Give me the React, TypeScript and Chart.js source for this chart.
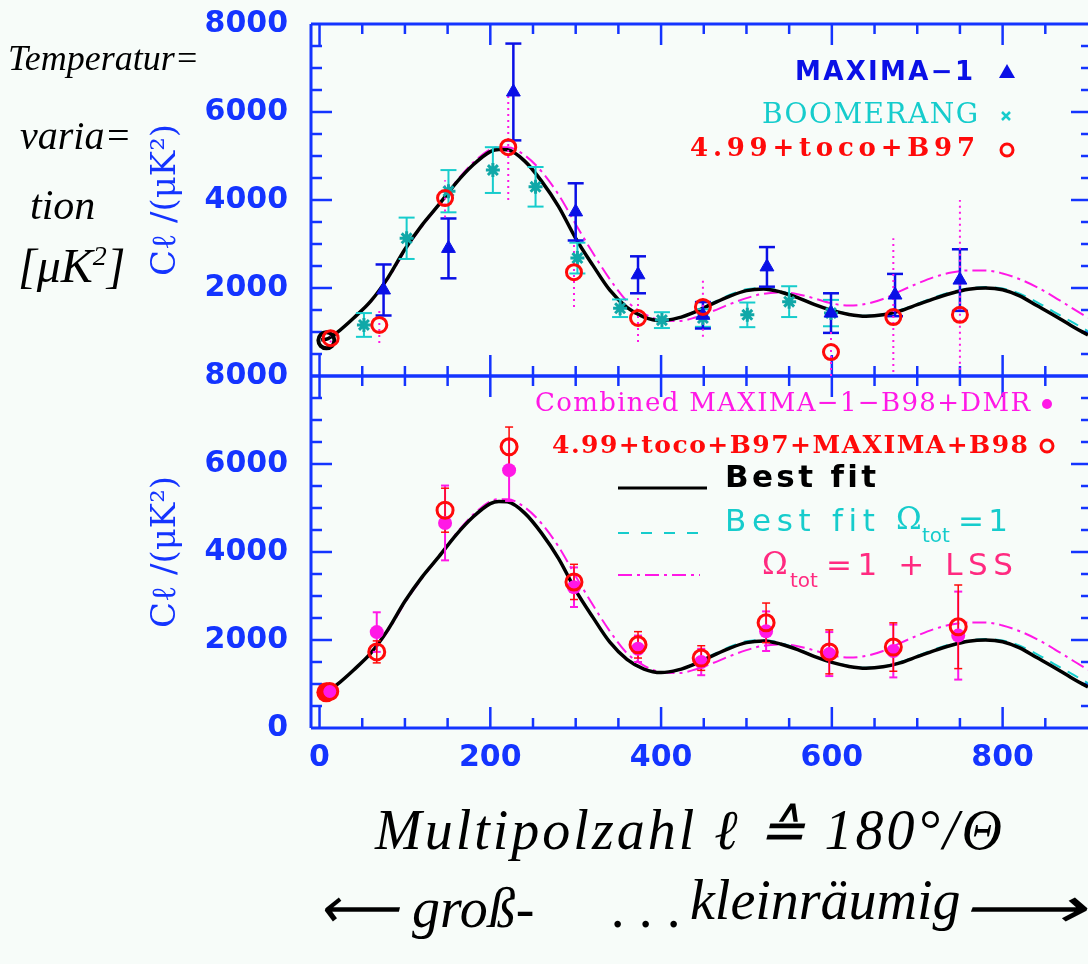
import React, { useEffect, useRef } from 'react';
import { Chart, registerables } from 'chart.js';

Chart.register(...registerables);

// ---------- axis ticks ----------
const xTickLabels = [0, 200, 400, 600, 800];
const yTickLabelsTop = [2000, 4000, 6000, 8000];
const yTickLabelsBottom = [0, 2000, 4000, 6000, 8000];

// ---------- theory curves (multipole l, C_l in uK^2) ----------
const curveEll = [2, 10, 20, 40, 60, 80, 100, 120, 140, 160, 180, 200, 210, 220, 240, 260, 280, 300, 320, 340, 360, 380, 400, 420, 440, 460, 480, 500, 520, 540, 560, 580, 600, 620, 640, 660, 680, 700, 720, 740, 760, 780, 800, 820, 840, 860, 880, 900];
const bestFit = [820, 850, 980, 1320, 1700, 2230, 2880, 3430, 3900, 4390, 4800, 5100, 5150, 5140, 4890, 4430, 3850, 3130, 2520, 1950, 1560, 1340, 1260, 1320, 1460, 1640, 1810, 1940, 1980, 1910, 1780, 1620, 1490, 1400, 1360, 1390, 1480, 1620, 1760, 1880, 1970, 2000, 1960, 1820, 1600, 1380, 1150, 930];
const bestFitFlat = [820, 850, 980, 1320, 1700, 2230, 2880, 3430, 3900, 4390, 4800, 5100, 5150, 5140, 4890, 4430, 3850, 3130, 2520, 1950, 1560, 1340, 1260, 1320, 1470, 1660, 1840, 1970, 2000, 1930, 1800, 1630, 1500, 1410, 1370, 1400, 1500, 1640, 1790, 1910, 1990, 2020, 1990, 1870, 1680, 1460, 1240, 1020];
const bestFitLSS = [820, 850, 980, 1320, 1690, 2200, 2850, 3400, 3900, 4420, 4850, 5150, 5200, 5200, 5020, 4650, 4120, 3450, 2800, 2200, 1700, 1420, 1270, 1250, 1330, 1470, 1630, 1770, 1870, 1900, 1860, 1760, 1650, 1600, 1640, 1750, 1930, 2100, 2250, 2350, 2400, 2400, 2330, 2200, 2020, 1800, 1560, 1320];

// ---------- top panel data ----------
const maximaEll = [75, 151, 227, 300, 373, 449, 524, 599, 674, 750];
const maximaVal = [1955, 2900, 6455, 3730, 2300, 1380, 2480, 1430, 1840, 2180];
const maximaErr = [580, 680, 1100, 650, 420, 300, 450, 450, 480, 700];

const boomEll = [52, 102, 151, 203, 253, 302, 352, 401, 449, 501, 550, 599];
const boomVal = [1160, 3130, 4200, 4680, 4300, 2680, 1540, 1270, 1318, 1390, 1690, 1430];
const boomErr = [270, 470, 480, 520, 450, 350, 200, 180, 200, 280, 350, 300];

const b97Ell = [13, 70, 147, 221, 298, 373, 449, 599, 672, 750];
const b97Val = [860, 1160, 4045, 5200, 2360, 1318, 1570, 545, 1340, 1390];
const b97Lo = [760, 750, 3600, 4000, 1570, 770, 890, 0, 90, 140];
const b97Hi = [960, 1540, 4450, 6450, 3020, 1850, 2250, 1050, 3130, 4000];

const dmrEll = [8];
const dmrVal = [810];

// ---------- bottom panel data ----------
const combEll = [12, 67, 147, 222, 298, 373, 447, 523, 597, 672, 748];
const combVal = [830, 2180, 4660, 5860, 3200, 1800, 1500, 2200, 1680, 1750, 2100];
const combErr = [150, 450, 850, 700, 450, 300, 300, 450, 500, 600, 1000];

const allEll = [12, 67, 147, 222, 298, 373, 447, 523, 597, 672, 748];
const allVal = [830, 1730, 4950, 6390, 3320, 1890, 1590, 2390, 1730, 1840, 2300];
const allErr = [100, 250, 500, 450, 400, 300, 280, 450, 500, 550, 950];

// ---------- legend texts ----------
const topLegend = ['MAXIMA\u22121', 'BOOMERANG', '4.99+toco+B97'];
const bottomLegend = ['Combined MAXIMA\u22121\u2212B98+DMR', '4.99+toco+B97+MAXIMA+B98', 'Best fit'];

// ---------- colours ----------
const AXIS = '#1434ff';
const BLUE = '#0a10e6';
const CYAN = '#16cccc';
const RED = '#ff0a0a';
const MAGENTA = '#ff18e6';
const PINK = '#ff2a80';
const BG = '#f7fcf9';

const pts = (xs: number[], ys: number[]) => xs.map((x, i) => ({ x, y: ys[i] }));
const sub = (v: number[], e: number[]) => v.map((a, i) => a - e[i]);
const add = (v: number[], e: number[]) => v.map((a, i) => a + e[i]);
const segs = (xs: number[], lo: number[], hi: number[]) =>
  xs.flatMap((x, i) => [{ x, y: lo[i] }, { x, y: hi[i] }, { x, y: null as any }]);
const caps = (xs: number[], lo: number[], hi: number[]) =>
  xs.flatMap((x, i) => [{ x, y: lo[i] }, { x, y: hi[i] }]);

const errLine = (data: any[], yAxisID: string, color: string, width: number, dash: number[] = []) => ({
  data, yAxisID, xAxisID: 'x', showLine: true, spanGaps: false, borderColor: color, borderWidth: width,
  borderDash: dash, pointRadius: 0, fill: false,
});
const errCap = (data: any[], yAxisID: string, color: string, width: number, r: number) => ({
  data, yAxisID, xAxisID: 'x', showLine: false, pointStyle: 'line', pointRadius: r,
  borderColor: color, pointBorderColor: color, pointBorderWidth: width,
});
const curve = (data: number[], yAxisID: string, color: string, width: number, dash: number[] = []) => ({
  data: pts(curveEll, data), yAxisID, xAxisID: 'x', showLine: true, borderColor: color, borderWidth: width,
  borderDash: dash, pointRadius: 0, cubicInterpolationMode: 'monotone', fill: false,
});

function spacedText(ctx: CanvasRenderingContext2D, text: string, x: number, y: number, width: number, align: 'left' | 'right') {
  (ctx as any).letterSpacing = '0px';
  ctx.textAlign = 'left';
  const w = ctx.measureText(text).width;
  const n = Math.max(text.length - 1, 1);
  const ls = (width - w) / n;
  (ctx as any).letterSpacing = ls + 'px';
  const sx = align === 'right' ? x - width : x;
  ctx.fillText(text, sx, y);
  (ctx as any).letterSpacing = '0px';
}

const framePlugin = {
  id: 'frameTicks',
  beforeDatasetsDraw(chart: any) {
    const ctx = chart.ctx as CanvasRenderingContext2D;
    const xs = chart.scales.x;
    const panels = [chart.scales.y1, chart.scales.y2];
    const seg = (a: number, b: number, c: number, d: number) => {
      ctx.beginPath(); ctx.moveTo(a, b); ctx.lineTo(c, d); ctx.stroke();
    };
    ctx.save();
    ctx.strokeStyle = AXIS;
    for (const s of panels) {
      ctx.lineWidth = 3;
      seg(xs.left, s.top, xs.right + 10, s.top);
      seg(xs.left, s.bottom, xs.right + 10, s.bottom);
      seg(xs.left, s.top, xs.left, s.bottom);
      ctx.lineWidth = 2.5;
      for (let v = 500; v < 8000; v += 500) {
        const py = s.getPixelForValue(v);
        const len = v % 2000 === 0 ? 21 : 11;
        seg(xs.left, py, xs.left + len, py);
        seg(xs.right + 4, py, xs.right + 4 - len, py);
      }
      for (let l = 0; l < 900; l += 50) {
        const px = xs.getPixelForValue(l);
        const len = l % 200 === 0 ? 21 : 10;
        seg(px, s.top, px, s.top + len);
        seg(px, s.bottom, px, s.bottom - len);
      }
    }
    ctx.restore();
  },
};

const legendPlugin = {
  id: 'customLegend',
  afterDatasetsDraw(chart: any) {
    const ctx = chart.ctx as CanvasRenderingContext2D;
    ctx.save();
    ctx.textBaseline = 'middle';
    // top panel legend
    ctx.fillStyle = BLUE; ctx.font = 'bold 26px "DejaVu Sans"';
    spacedText(ctx, topLegend[0], 973, 73, 178, 'right');
    ctx.fillStyle = CYAN; ctx.font = '28px "DejaVu Serif"';
    spacedText(ctx, topLegend[1], 978, 116, 216, 'right');
    ctx.fillStyle = RED; ctx.font = 'bold 26px "DejaVu Serif"';
    spacedText(ctx, topLegend[2], 975, 149, 285, 'right');
    // markers
    ctx.fillStyle = BLUE;
    ctx.beginPath(); ctx.moveTo(1007, 64); ctx.lineTo(1015, 78); ctx.lineTo(999, 78); ctx.closePath(); ctx.fill();
    ctx.strokeStyle = CYAN; ctx.lineWidth = 2.5;
    ctx.beginPath(); ctx.moveTo(1002, 112); ctx.lineTo(1010, 120); ctx.moveTo(1010, 112); ctx.lineTo(1002, 120); ctx.stroke();
    ctx.strokeStyle = RED; ctx.lineWidth = 3;
    ctx.beginPath(); ctx.arc(1007, 150, 6, 0, Math.PI * 2); ctx.stroke();

    // bottom panel legend
    ctx.fillStyle = MAGENTA; ctx.font = '26px "DejaVu Serif"';
    spacedText(ctx, bottomLegend[0], 1030, 404, 495, 'right');
    ctx.beginPath(); ctx.arc(1047, 404, 5, 0, Math.PI * 2); ctx.fill();
    ctx.fillStyle = RED; ctx.font = 'bold 25px "DejaVu Serif"';
    spacedText(ctx, bottomLegend[1], 1028, 446, 476, 'right');
    ctx.strokeStyle = RED; ctx.lineWidth = 3;
    ctx.beginPath(); ctx.arc(1047, 446, 6, 0, Math.PI * 2); ctx.stroke();

    // line legends
    ctx.strokeStyle = '#000'; ctx.lineWidth = 3; ctx.setLineDash([]);
    ctx.beginPath(); ctx.moveTo(618, 488); ctx.lineTo(707, 488); ctx.stroke();
    ctx.fillStyle = '#000'; ctx.font = 'bold 31px "DejaVu Sans"';
    spacedText(ctx, bottomLegend[2], 725, 479, 150, 'left');

    ctx.strokeStyle = CYAN; ctx.lineWidth = 2; ctx.setLineDash([11, 12]);
    ctx.beginPath(); ctx.moveTo(618, 533); ctx.lineTo(707, 533); ctx.stroke();
    ctx.fillStyle = CYAN; ctx.font = '31px "DejaVu Sans"';
    spacedText(ctx, 'Best fit', 725, 523, 150, 'left');
    ctx.font = '31px "DejaVu Serif"';
    ctx.fillText('\u03A9', 896, 521);
    ctx.font = '20px "DejaVu Sans"';
    ctx.fillText('tot', 922, 537);
    ctx.font = '31px "DejaVu Sans"';
    spacedText(ctx, '=1', 958, 523, 50, 'left');

    ctx.strokeStyle = MAGENTA; ctx.lineWidth = 2; ctx.setLineDash([14, 5, 3, 5]);
    ctx.beginPath(); ctx.moveTo(618, 575); ctx.lineTo(700, 575); ctx.stroke();
    ctx.setLineDash([]);
    ctx.fillStyle = PINK; ctx.font = '31px "DejaVu Serif"';
    ctx.fillText('\u03A9', 762, 566);
    ctx.font = '20px "DejaVu Sans"';
    ctx.fillText('tot', 790, 582);
    ctx.font = '31px "DejaVu Sans"';
    spacedText(ctx, '=1 + LSS', 826, 567, 187, 'left');
    ctx.restore();
  },
};

const yScale = (ticks: number[], hideZeroLabel: boolean) => ({
  type: 'linear',
  position: 'left',
  stack: 'panels',
  stackWeight: 1,
  min: 0,
  max: 8000,
  afterBuildTicks: (s: any) => { s.ticks = ticks.map((v) => ({ value: v })); },
  afterFit: (s: any) => {
    s.width = 311;
    s.paddingTop = 0; s.paddingBottom = 0; s.paddingLeft = 0; s.paddingRight = 0;
  },
  grid: { display: false, drawTicks: false },
  border: { display: false },
  ticks: {
    color: AXIS,
    padding: 23,
    autoSkip: false,
    font: { family: 'DejaVu Sans', size: 30, weight: 'bold' },
    callback: (v: any) => (hideZeroLabel && v === 0 ? '' : String(v)),
  },
  title: {
    display: true,
    text: 'C\u2113 /(\u03BCK\u00B2)',
    color: AXIS,
    font: { family: 'DejaVu Serif', size: 34 },
    padding: { top: 146, bottom: 0 },
  },
});

function CmbChart() {
  const ref = useRef<HTMLCanvasElement | null>(null);
  useEffect(() => {
    if (!ref.current) return;
    const datasets: any[] = [
      // top panel markers
      { label: topLegend[2], data: pts(b97Ell, b97Val), yAxisID: 'y1', xAxisID: 'x', pointStyle: 'circle', pointRadius: 7.5, pointBorderWidth: 3, pointBorderColor: RED, pointBackgroundColor: 'rgba(0,0,0,0)' },
      { label: topLegend[0], data: pts(maximaEll, maximaVal), yAxisID: 'y1', xAxisID: 'x', pointStyle: 'triangle', pointRadius: 8, pointBorderWidth: 1, pointBorderColor: BLUE, pointBackgroundColor: BLUE },
      { label: topLegend[1], data: pts(boomEll, boomVal), yAxisID: 'y1', xAxisID: 'x', pointStyle: 'star', pointRadius: 7, pointBorderWidth: 3, pointBorderColor: '#10a8a8', pointBackgroundColor: CYAN },
      { label: 'DMR', data: pts(dmrEll, dmrVal), yAxisID: 'y1', xAxisID: 'x', pointStyle: 'circle', pointRadius: 8, pointBorderWidth: 4, pointBorderColor: '#000', pointBackgroundColor: 'rgba(0,0,0,0)' },
      // bottom panel markers
      { label: bottomLegend[1], data: pts(allEll, allVal), yAxisID: 'y2', xAxisID: 'x', pointStyle: 'circle', pointRadius: 8, pointBorderWidth: 3, pointBorderColor: RED, pointBackgroundColor: 'rgba(0,0,0,0)' },
      { label: bottomLegend[0], data: pts(combEll, combVal), yAxisID: 'y2', xAxisID: 'x', pointStyle: 'circle', pointRadius: 7, pointBorderWidth: 0, pointBorderColor: MAGENTA, pointBackgroundColor: MAGENTA },
      { label: 'DMR', data: pts(dmrEll, dmrVal), yAxisID: 'y2', xAxisID: 'x', pointStyle: 'circle', pointRadius: 10, pointBorderWidth: 0, pointBorderColor: RED, pointBackgroundColor: RED },
      // error bars top
      errLine(segs(b97Ell, b97Lo, b97Hi), 'y1', MAGENTA, 2, [2, 4]),
      errLine(segs(maximaEll, sub(maximaVal, maximaErr), add(maximaVal, maximaErr)), 'y1', BLUE, 2.5),
      errCap(caps(maximaEll, sub(maximaVal, maximaErr), add(maximaVal, maximaErr)), 'y1', BLUE, 2.5, 8),
      errLine(segs(boomEll, sub(boomVal, boomErr), add(boomVal, boomErr)), 'y1', CYAN, 2),
      errCap(caps(boomEll, sub(boomVal, boomErr), add(boomVal, boomErr)), 'y1', CYAN, 2, 8),
      // error bars bottom
      errLine(segs(allEll, sub(allVal, allErr), add(allVal, allErr)), 'y2', RED, 1.5),
      errCap(caps(allEll, sub(allVal, allErr), add(allVal, allErr)), 'y2', RED, 1.5, 4),
      errLine(segs(combEll, sub(combVal, combErr), add(combVal, combErr)), 'y2', MAGENTA, 2),
      errCap(caps(combEll, sub(combVal, combErr), add(combVal, combErr)), 'y2', MAGENTA, 2, 4),
      // curves
      curve(bestFit, 'y1', '#000', 3.5),
      curve(bestFitFlat, 'y1', CYAN, 2, [12, 8]),
      curve(bestFitLSS, 'y1', MAGENTA, 2, [14, 5, 3, 5]),
      curve(bestFit, 'y2', '#000', 3.5),
      curve(bestFitFlat, 'y2', CYAN, 2, [12, 8]),
      curve(bestFitLSS, 'y2', MAGENTA, 2, [14, 5, 3, 5]),
    ];
    const chart = new Chart(ref.current, {
      type: 'scatter',
      data: { datasets },
      options: {
        responsive: false,
        maintainAspectRatio: false,
        animation: false,
        events: [],
        layout: { padding: { top: 24, bottom: 176, left: 0, right: 7 } },
        plugins: { legend: { display: false }, tooltip: { enabled: false } },
        scales: {
          x: {
            type: 'linear',
            position: 'bottom',
            min: -10,
            max: 900,
            afterBuildTicks: (s: any) => { s.ticks = xTickLabels.map((v) => ({ value: v })); },
            afterFit: (s: any) => {
              s.height = 60;
              s.paddingTop = 0; s.paddingBottom = 0; s.paddingLeft = 0; s.paddingRight = 0;
            },
            grid: { display: false, drawTicks: false },
            border: { display: false },
            ticks: {
              color: AXIS,
              padding: 12,
              autoSkip: false,
              maxRotation: 0,
              font: { family: 'DejaVu Sans', size: 30, weight: 'bold' },
            },
          },
          // first stacked axis is laid out at the bottom
          y2: yScale(yTickLabelsBottom, false),
          y1: yScale(yTickLabelsTop, true),
        } as any,
      },
      plugins: [framePlugin, legendPlugin],
    });
    return () => chart.destroy();
  }, []);
  return <canvas ref={ref} width={1100} height={964} style={{ display: 'block', width: 1100, height: 964 }} />;
}

const hand: React.CSSProperties = {
  position: 'absolute',
  fontFamily: '"Liberation Serif", serif',
  fontStyle: 'italic',
  color: '#000',
  whiteSpace: 'nowrap',
  lineHeight: 1,
};

export default function App() {
  return (
    <div style={{ position: 'fixed', left: 0, top: 0, width: 1088, height: 964, overflow: 'hidden', background: BG }}>
      <CmbChart />
      <div style={{ ...hand, left: 8, top: 40, fontSize: 36 }}>Temperatur=</div>
      <div style={{ ...hand, left: 20, top: 116, fontSize: 40 }}>varia=</div>
      <div style={{ ...hand, left: 30, top: 184, fontSize: 42 }}>tion</div>
      <div style={{ ...hand, left: 18, top: 242, fontSize: 48 }}>[μK<sup style={{ fontSize: 28 }}>2</sup>]</div>
      <div style={{ ...hand, left: 375, top: 802, fontSize: 56, letterSpacing: 3 }}>Multipolzahl ℓ ≙ 180°/Θ</div>
      <div style={{ ...hand, left: 318, top: 880, fontSize: 56 }}>⟵ groß-</div>
      <div style={{ ...hand, left: 612, top: 880, fontSize: 56 }}>. . .</div>
      <div style={{ ...hand, left: 690, top: 872, fontSize: 56 }}>kleinräumig</div>
      <div style={{ ...hand, left: 960, top: 880, fontSize: 56, transform: 'scaleX(1.55)', transformOrigin: 'left center' }}>⟶</div>
    </div>
  );
}
